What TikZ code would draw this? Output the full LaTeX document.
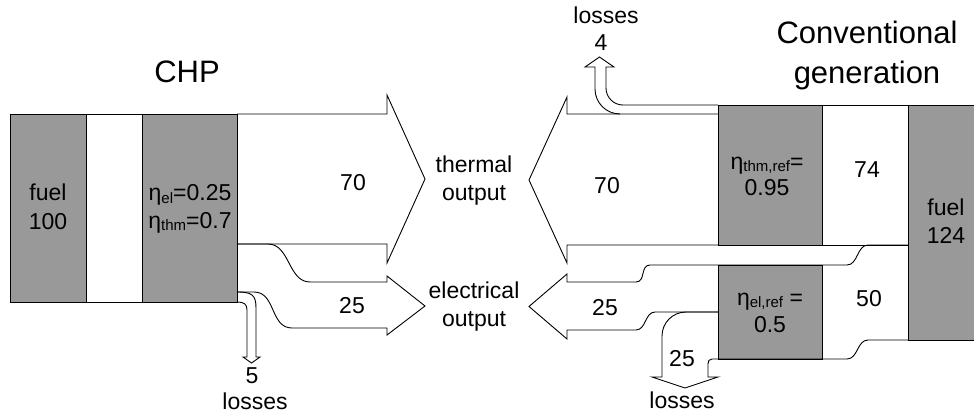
\documentclass[tikz,border=0pt]{standalone}
\usepackage{fontspec}
\setmainfont{Liberation Sans}
\definecolor{boxgray}{RGB}{153,153,153}
\newcommand\mysub[1]{\raisebox{-0.12em}{\fontsize{15}{15}\selectfont #1}}
\begin{document}
\begin{tikzpicture}[x=1pt,y=-1pt,line width=0.9pt,
  box/.style={draw=black,fill=boxgray,line width=0.9pt},
  lbl/.style={font=\fontsize{23}{27}\selectfont,inner sep=0pt,anchor=base},
  ttl/.style={font=\fontsize{31}{36}\selectfont,inner sep=0pt,anchor=base}]
\useasboundingbox (0,0) rectangle (974,418);
% ---------------- CHP ----------------
\path[box] (10,114) rectangle (86,302);
\draw (86,114) rectangle (142,302);
\path[box] (142,114) rectangle (237,302);
% thermal output arrow
\draw (237,114) -- (387,114) -- (387,95) -- (425,179) -- (387,263) -- (387,244) -- (237,244);
% electrical output arrow
\draw (237,244) -- (268,244) .. controls (290,244) and (288,282) .. (310,282) -- (387,282)
  -- (387,276) -- (425,306) -- (387,335) -- (387,328) -- (292,328)
  .. controls (270,328) and (276,292) .. (254,292) -- (237,292);
% losses arrow
\draw (237,292) .. controls (252,292) and (256,295) .. (256,308) -- (256,357) -- (260,357)
  -- (251.5,363) -- (243,357) -- (247,357) -- (247,310)
  .. controls (247,304) and (244,302) .. (237,302);
% ---------------- Conventional ----------------
\path[box] (908,105) rectangle (976,340);
\draw (822,105) rectangle (908,245);
\path[box] (718,105) rectangle (822,245);
\path[box] (718,265) rectangle (822,359);
% thermal arrow
\draw (718,114) -- (567,114) -- (567,97) -- (529,180) -- (567,263) -- (567,245) -- (718,245);
% losses 4
\draw (620,114) .. controls (606.2,114) and (595,102.8) .. (595,89) -- (595,67) -- (585,67)
  -- (599.5,57) -- (614,67) -- (606,67) -- (606,88)
  .. controls (606,97.4) and (613.6,105) .. (623,105) -- (718,105);
% electrical band
\draw (908,245) -- (868,245) .. controls (857,245) and (858,265) .. (847,265) -- (650,265)
  .. controls (640,265) and (646,282) .. (636,282) -- (567,282) -- (567,274) -- (529,306.5)
  -- (567,339) -- (567,330) -- (636,330) .. controls (646,330) and (645,312) .. (655,312) -- (718,312);
\draw (718,359) -- (847,359) .. controls (858,359) and (857,340) .. (868,340) -- (908,340);
% losses 25
\draw (718,312) -- (686,312) .. controls (672.7,312) and (662,322.7) .. (662,336) -- (662,377)
  -- (652,377) -- (685,388) -- (718,377) -- (708,377) -- (708,364)
  .. controls (708,361) and (709,359) .. (712,359) -- (718,359);
% ---------------- texts ----------------
\node[ttl] (chp) at (187,82) {CHP};
\node[ttl] (conv1) at (867,43) {Conventional};
\node[ttl] (conv2) at (867,83) {generation};
\node[lbl] (fuelA) at (48,200.7) {fuel};
\node[lbl] (fuelAv) at (48,229) {100};
\node[lbl] (etael) at (190,200.7) {η\mysub{el}=0.25};
\node[lbl] (etathm) at (190,228) {η\mysub{thm}=0.7};
\node[lbl] (th70a) at (353,190) {70};
\node[lbl] (el25a) at (352,313) {25};
\node[lbl] (los5) at (252,383) {5};
\node[lbl] (losA) at (255,409) {losses};
\node[lbl] (thout1) at (474,172) {thermal};
\node[lbl] (thout2) at (474,200) {output};
\node[lbl] (elout1) at (474,298) {electrical};
\node[lbl] (elout2) at (474,326) {output};
\node[lbl] (th70b) at (607,193) {70};
\node[lbl] (el25b) at (605,315) {25};
\node[lbl] (losB) at (606,23) {losses};
\node[lbl] (los4) at (601,50) {4};
\node[lbl] (etathmref) at (767,169) {η\mysub{thm,ref}=};
\node[lbl] (etathmrefv) at (767,195) {0.95};
\node[lbl] (v74) at (867,177) {74};
\node[lbl] (fuelB) at (946,215) {fuel};
\node[lbl] (fuelBv) at (946,243) {124};
\node[lbl] (etaelref) at (770,305) {η\mysub{el,ref} =};
\node[lbl] (etaelrefv) at (770,332) {0.5};
\node[lbl] (v50) at (869,306) {50};
\node[lbl] (los25) at (682,366) {25};
\node[lbl] (losC) at (682,408) {losses};
\end{tikzpicture}
\end{document}
